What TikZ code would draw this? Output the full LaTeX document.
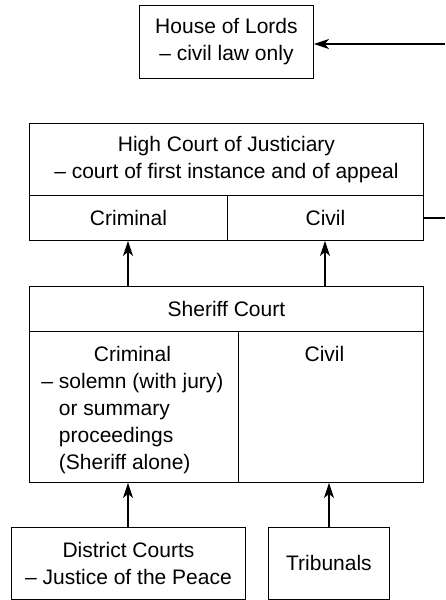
\documentclass[tikz,border=0pt]{standalone}
\usepackage{fontspec}
\setmainfont{Liberation Sans}
\usetikzlibrary{arrows.meta}
\begin{document}
\begin{tikzpicture}[x=1pt,y=-1pt,
 box/.style={draw, line width=0.9pt, rectangle, inner sep=0pt, anchor=north west,
   font=\fontsize{21}{27}\selectfont, align=center},
 txt/.style={inner sep=0pt, anchor=north, font=\fontsize{21}{27}\selectfont},
 arr/.style={line width=1.8pt, -{Stealth[length=15pt,width=10pt,inset=4pt]}},
 stub/.style={line width=1.8pt}]
\useasboundingbox (0,0) rectangle (445,600);
% House of Lords
\node[box, minimum width=174pt, minimum height=73pt] (hol) at (139,5) {House of Lords\\– civil law only};
% High Court of Justiciary
\node[box, minimum width=394pt, minimum height=72pt] (hc) at (29,123) {High Court of Justiciary\\– court of first instance and of appeal};
\node[box, minimum width=198pt, minimum height=45pt] (hcc) at (29,195) {Criminal};
\node[box, minimum width=196pt, minimum height=45pt] (hcv) at (227,195) {Civil};
% free ends at the right edge
\coordinate (e1) at (445,44);
\coordinate (e2) at (445,218);
\draw[arr] (e1) -- (e1 -| hol.east);
\draw[stub] (hcv.east |- e2) -- (e2);
% Sheriff Court
\node[box, minimum width=394pt, minimum height=45pt] (sc) at (29,286) {Sheriff Court};
\node[box, minimum width=209pt, minimum height=151pt] (scc) at (29,331) {};
\node[box, minimum width=185pt, minimum height=151pt] (scv) at (238,331) {};
\node[txt] (scct) at ([xshift=-1.5pt,yshift=-11pt]scc.north) {\begin{tabular}{@{}l@{}}\multicolumn{1}{@{}c@{}}{Criminal}\\– solemn (with jury)\\\phantom{– }or summary\\\phantom{– }proceedings\\\phantom{– }(Sheriff alone)\end{tabular}};
\node[txt] (scvt) at ([xshift=-6.5pt,yshift=-11pt]scv.north) {\begin{tabular}{@{}c@{}}Civil\end{tabular}};
% Lower courts
\node[box, minimum width=234pt, minimum height=72pt] (dc) at (11,527) {District Courts\\– Justice of the Peace};
\node[box, minimum width=121pt, minimum height=72pt] (tr) at (268,527) {Tribunals};
% arrows
\draw[arr] ([xshift=99pt]sc.north west) -- ([xshift=99pt]hcc.south west);
\draw[arr] ([xshift=296pt]sc.north west) -- ([xshift=296pt]hcc.south west);
\draw[arr] ([xshift=117pt]dc.north west) -- ([xshift=99pt]scc.south west);
\draw[arr] ([xshift=61pt]tr.north west) -- ([xshift=91pt]scv.south west);
\end{tikzpicture}
\end{document}
